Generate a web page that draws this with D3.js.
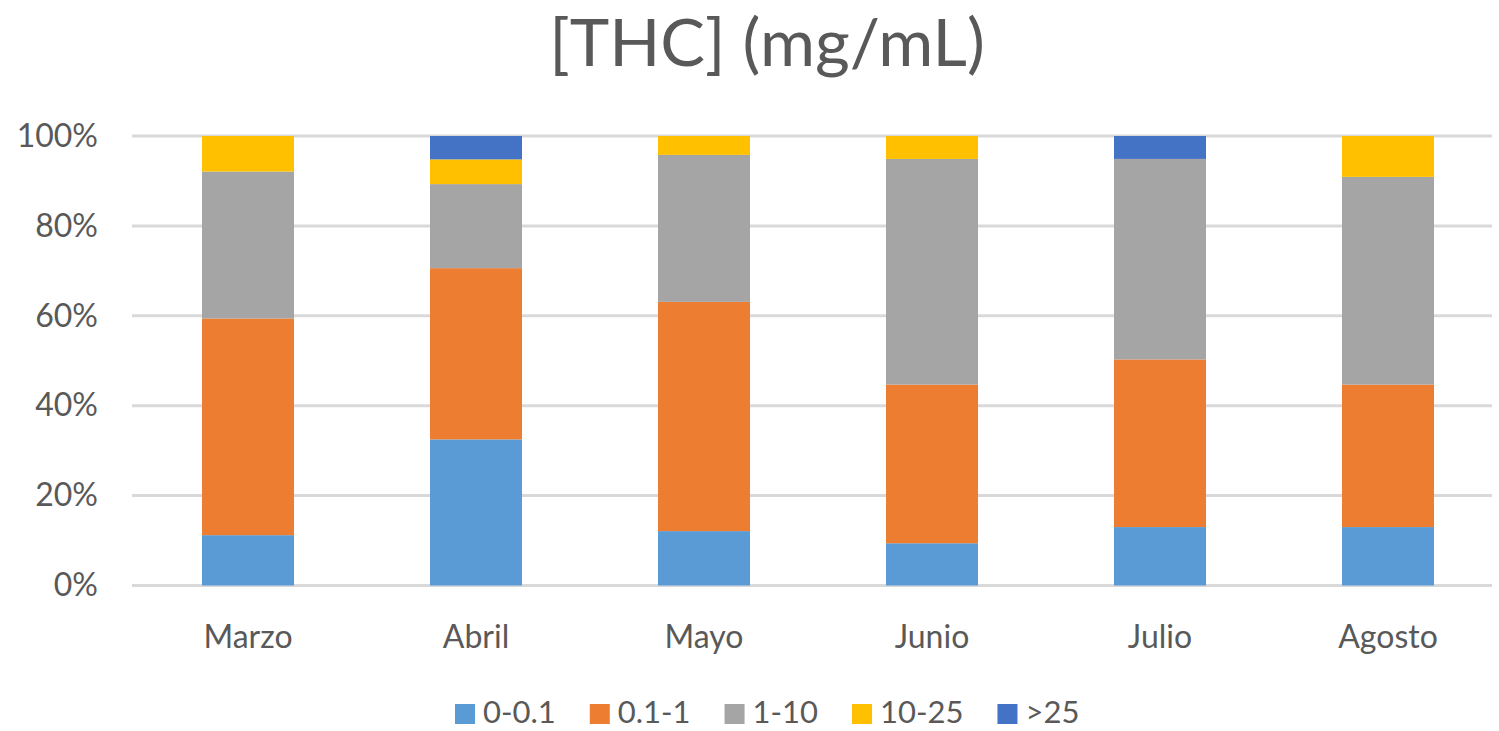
<!DOCTYPE html>
<html>
<head>
<meta charset="utf-8">
<script src="https://cdn.jsdelivr.net/npm/d3@7"></script>
<style>
  html, body { margin: 0; padding: 0; background: #fff; }
  svg { display: block; }
  text { font-family: Lato, "Open Sans", sans-serif; fill: #595959; }
</style>
</head>
<body>
<svg id="chart" width="1499" height="731"></svg>
<script>
// ---- Data (percent of samples per concentration range) ----
const months = ["Marzo", "Abril", "Mayo", "Junio", "Julio", "Agosto"];
const seriesNames = ["0-0.1", "0.1-1", "1-10", "10-25", ">25"];
const s0_01   = [11.2, 32.5, 12.1, 9.4, 13.0, 13.0];
const s01_1   = [48.2, 38.1, 51.0, 35.3, 37.3, 31.7];
const s1_10   = [32.7, 18.7, 32.7, 50.2, 44.6, 46.2];
const s10_25  = [7.9, 5.5, 4.2, 5.1, 0.0, 9.1];
const s25     = [0.0, 5.2, 0.0, 0.0, 5.1, 0.0];
const yTicks  = [0, 20, 40, 60, 80, 100];
const title   = "[THC] (mg/mL)";

const colors = ["#5B9BD5", "#ED7D31", "#A5A5A5", "#FFC000", "#4472C4"];
const seriesValues = [s0_01, s01_1, s1_10, s10_25, s25];

const rows = months.map((m, i) => {
  const r = { month: m };
  seriesNames.forEach((s, j) => { r[s] = seriesValues[j][i]; });
  return r;
});

const svg = d3.select("#chart");

const x = d3.scaleBand()
  .domain(months)
  .range([134, 1502])
  .paddingInner(0.5965)
  .paddingOuter(0.29825);

const y = d3.scaleLinear().domain([0, 100]).range([585.5, 136]);

// gridlines
svg.append("g")
  .selectAll("line")
  .data(yTicks)
  .join("line")
  .attr("x1", 132).attr("x2", 1492)
  .attr("y1", d => y(d)).attr("y2", d => y(d))
  .attr("stroke", "#D9D9D9")
  .attr("stroke-width", 3);

// y axis labels
const yAxis = d3.axisLeft(y).tickValues(yTicks).tickFormat(d => d + "%").tickSize(0).tickPadding(0);
const yg = svg.append("g").attr("transform", "translate(98,0)").call(yAxis);
yg.select(".domain").remove();
yg.selectAll("text")
  .attr("font-size", 32)
  .attr("fill", "#595959")
  .style("font-family", "Lato, 'Open Sans', sans-serif");

// stacked bars
const stack = d3.stack().keys(seriesNames)(rows);
svg.append("g")
  .selectAll("g")
  .data(stack)
  .join("g")
  .attr("fill", (d, i) => colors[i])
  .selectAll("rect")
  .data(d => d)
  .join("rect")
  .attr("x", d => x(d.data.month))
  .attr("width", x.bandwidth())
  .attr("y", d => y(d[1]))
  .attr("height", d => y(d[0]) - y(d[1]));

// x axis labels
const xAxis = d3.axisBottom(x).tickSize(0).tickPadding(0);
const xg = svg.append("g").attr("transform", "translate(0,648)").call(xAxis);
xg.select(".domain").remove();
xg.selectAll("text")
  .attr("font-size", 32)
  .attr("dy", 0)
  .attr("fill", "#595959")
  .style("font-family", "Lato, 'Open Sans', sans-serif");

// title
svg.append("text")
  .attr("transform", "translate(767,66) scale(1.03,1)")
  .attr("text-anchor", "middle")
  .attr("font-size", 65)
  .text(title);

// legend
const legend = svg.append("g");
let lx = 455;
seriesNames.forEach((s, i) => {
  legend.append("rect")
    .attr("x", lx).attr("y", 704)
    .attr("width", 20).attr("height", 20)
    .attr("fill", colors[i]);
  const t = legend.append("text")
    .attr("x", lx + 28).attr("y", 723)
    .attr("font-size", 31)
    .text(s);
  const w = t.node().getComputedTextLength();
  lx += 28 + w + 34;
});
</script>
</body>
</html>
